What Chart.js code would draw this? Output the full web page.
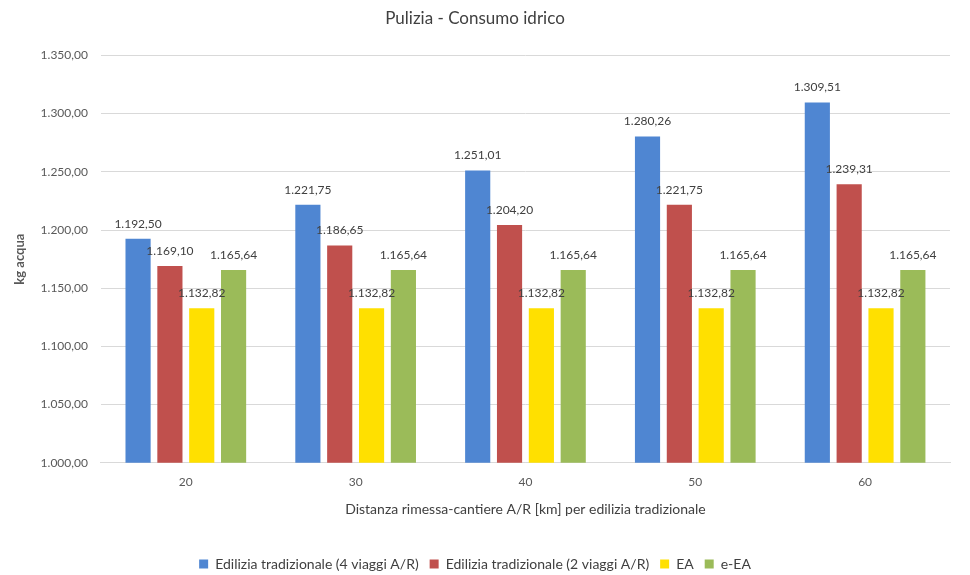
<!DOCTYPE html>
<html>
<head>
<meta charset="utf-8">
<script src="https://cdn.jsdelivr.net/npm/chart.js@4"></script>
<style>
  html, body { margin: 0; padding: 0; background: #fff; overflow: hidden; }
  #wrap { width: 970px; height: 581px; }
</style>
</head>
<body>
<div id="wrap"><canvas id="chart"></canvas></div>
<script>
// dati
const categorie = ['20', '30', '40', '50', '60'];
const trad4 = [1192.50, 1221.75, 1251.01, 1280.26, 1309.51];
const trad2 = [1169.10, 1186.65, 1204.20, 1221.75, 1239.31];
const ea = [1132.82, 1132.82, 1132.82, 1132.82, 1132.82];
const eea = [1165.64, 1165.64, 1165.64, 1165.64, 1165.64];

// formato italiano: 1.192,50
function fmt(v) {
    const parts = v.toFixed(2).split('.');
    parts[0] = parts[0].replace(/\B(?=(\d{3})+(?!\d))/g, '.');
    return parts.join(',');
}

const etichette = {
    id: 'etichette',
    afterDatasetsDraw(chart) {
        const c = chart.ctx;
        c.save();
        c.font = '12px Lato';
        c.fillStyle = '#404040';
        c.textAlign = 'center';
        c.textBaseline = 'bottom';
        chart.data.datasets.forEach((ds, i) => {
            chart.getDatasetMeta(i).data.forEach((bar, j) => {
                c.fillText(fmt(ds.data[j]), bar.x, bar.y - 9);
            });
        });
        c.restore();
    }
};

const ctx = document.getElementById('chart').getContext('2d');
new Chart(ctx, {
    type: 'bar',
    data: {
        labels: categorie,
        datasets: [
            { label: 'Edilizia tradizionale (4 viaggi A/R)', data: trad4, backgroundColor: '#4f86d2' },
            { label: 'Edilizia tradizionale (2 viaggi A/R)', data: trad2, backgroundColor: '#c0504d' },
            { label: 'EA', data: ea, backgroundColor: '#ffe000' },
            { label: 'e-EA', data: eea, backgroundColor: '#9bbb59' }
        ]
    },
    options: {
        responsive: true,
        maintainAspectRatio: false,
        animation: false,
        datasets: { bar: { categoryPercentage: 0.75, barPercentage: 0.79 } },
        layout: { padding: { left: 0, right: 20, top: 4, bottom: 0 } },
        plugins: {
            title: {
                display: true,
                text: 'Pulizia - Consumo idrico',
                color: '#404040',
                font: { family: 'Lato', size: 17, weight: 'normal' },
                padding: { top: 4, bottom: 27 }
            },
            legend: {
                position: 'bottom',
                labels: {
                    boxWidth: 9, boxHeight: 9, color: '#404040',
                    font: { family: 'Lato', size: 14 },
                    padding: 11
                }
            },
            tooltip: { enabled: false }
        },
        scales: {
            x: {
                grid: { display: false },
                border: { color: '#d9d9d9' },
                ticks: { color: '#595959', font: { family: 'Lato', size: 12 }, padding: 4 },
                title: {
                    display: true,
                    text: 'Distanza rimessa-cantiere A/R [km] per edilizia tradizionale',
                    color: '#404040',
                    font: { family: 'Lato', size: 14 },
                    padding: { top: 8, bottom: 28 }
                }
            },
            y: {
                min: 1000, max: 1350,
                grid: { color: '#d9d9d9', drawTicks: false },
                border: { display: false },
                ticks: {
                    stepSize: 50, color: '#595959', padding: 13,
                    font: { family: 'Lato', size: 12 },
                    callback: v => fmt(v)
                },
                title: {
                    display: true, text: 'kg acqua', color: '#595959',
                    font: { family: 'Lato', size: 13, weight: 'bold' },
                    padding: { top: 12, bottom: 0 }
                }
            }
        }
    },
    plugins: [etichette]
});
</script>
</body>
</html>
